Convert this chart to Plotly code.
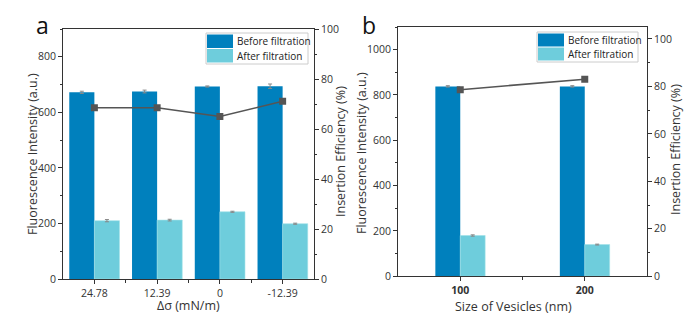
import plotly.graph_objects as go

# ---------------- data ----------------
cats_a = ["24.78", "12.39", "0", "-12.39"]
before_a = [672, 675, 693, 694]
before_a_err = [4, 5, 2, 8]
after_a = [210, 212, 242, 199]
after_a_err = [4, 3, 2, 2]
eff_a = [68.5, 68.5, 65.0, 71.1]

cats_b = ["100", "200"]
before_b = [838, 838]
before_b_err = [3, 3]
after_b = [180, 140]
after_b_err = [3, 2]
eff_b = [78.6, 83.0]

series_names = ["Before filtration", "After filtration"]
title_a_x = "Δσ (mN/m)"
title_b_x = "Size of Vesicles (nm)"
title_y_left = "Fluorescence Intensity (a.u.)"
title_y_right = "Insertion Efficiency (%)"

# ---------------- style ----------------
C_BEFORE = "#0080BD"
C_AFTER = "#6ECDDC"
C_LINE = "#555555"
FONT = "Open Sans"
OFF = 8                       # page body margin of the browser
W, H = 700 - 2 * OFF, 325 - 2 * OFF


def px(x):
    return (x - OFF) / W


def py(y):
    return 1 - (y - OFF) / H


fig = go.Figure()

xa = list(range(len(cats_a)))
xb = list(range(len(cats_b)))

err_style = dict(type="data", thickness=1, width=2, color="#888888")

fig.add_trace(go.Bar(x=xa, y=before_a, name=series_names[0], marker_color=C_BEFORE,
                     marker_line_width=0, error_y=dict(array=before_a_err, **err_style),
                     xaxis="x", yaxis="y", offsetgroup="1", showlegend=False))
fig.add_trace(go.Bar(x=xa, y=after_a, name=series_names[1], marker_color=C_AFTER,
                     marker_line=dict(width=0.6, color="#9FE0E8"),
                     error_y=dict(array=after_a_err, **err_style),
                     xaxis="x", yaxis="y", offsetgroup="2", showlegend=False))
fig.add_trace(go.Scatter(x=xa, y=eff_a, mode="lines+markers", xaxis="x", yaxis="y2",
                         line=dict(color=C_LINE, width=1.6),
                         marker=dict(symbol="square", size=7, color=C_LINE), showlegend=False))

fig.add_trace(go.Bar(x=xb, y=before_b, name=series_names[0], marker_color=C_BEFORE,
                     marker_line_width=0, error_y=dict(array=before_b_err, **err_style),
                     xaxis="x2", yaxis="y3", width=0.2, offset=-0.2, showlegend=False))
fig.add_trace(go.Bar(x=xb, y=after_b, name=series_names[1], marker_color=C_AFTER,
                     marker_line=dict(width=0.6, color="#9FE0E8"),
                     error_y=dict(array=after_b_err, **err_style),
                     xaxis="x2", yaxis="y3", width=0.2, offset=0.0, showlegend=False))
fig.add_trace(go.Scatter(x=xb, y=eff_b, mode="lines+markers", xaxis="x2", yaxis="y4",
                         line=dict(color=C_LINE, width=1.6),
                         marker=dict(symbol="square", size=7, color=C_LINE), showlegend=False))

axcol = "#333333"
tickfont = dict(family=FONT, size=10.5, color="#333333")

common_x = dict(showline=True, linecolor=axcol, linewidth=1, mirror=True, ticks="outside",
                ticklen=4, tickcolor=axcol, showgrid=False, zeroline=False, tickfont=tickfont,
                automargin=False)
common_y = dict(showline=True, linecolor=axcol, linewidth=1, ticks="outside", ticklen=4,
                tickcolor=axcol, showgrid=False, zeroline=False, tickfont=tickfont,
                automargin=False)

dom_xa = [px(63), px(314)]
dom_xb = [px(398), px(647)]
dom_ya = [py(279), py(29)]
dom_yb = [py(276.3), py(27)]

fig.update_layout(
    width=W, height=H, margin=dict(l=0, r=0, t=0, b=0, autoexpand=False),
    paper_bgcolor="white", plot_bgcolor="white",
    barmode="group", bargap=0.2, bargroupgap=0,
    font=dict(family=FONT, color="#333333"),
    xaxis=dict(domain=dom_xa, range=[-0.5, len(cats_a) - 0.5], tickvals=xa, ticktext=cats_a,
               minor=dict(tickvals=[i + 0.5 for i in xa[:-1]], ticks="outside", ticklen=3,
                          tickcolor=axcol),
               anchor="y", **common_x),
    yaxis=dict(domain=dom_ya, range=[0, 900], dtick=200, anchor="x",
               minor=dict(dtick=100, ticks="outside", ticklen=2, tickcolor=axcol),
               **common_y),
    yaxis2=dict(domain=dom_ya, range=[0, 100], dtick=20, overlaying="y", side="right", anchor="x",
                minor=dict(dtick=10, ticks="outside", ticklen=2, tickcolor=axcol),
                **common_y),
    xaxis2=dict(domain=dom_xb, range=[-0.5, len(cats_b) - 0.5], tickvals=xb,
                ticktext=["<b>%s</b>" % c for c in cats_b],
                minor=dict(tickvals=[i + 0.5 for i in xb[:-1]], ticks="outside", ticklen=3,
                           tickcolor=axcol),
                anchor="y3", **common_x),
    yaxis3=dict(domain=dom_yb, range=[0, 1100], dtick=200, anchor="x2",
                minor=dict(dtick=100, ticks="outside", ticklen=2, tickcolor=axcol),
                **common_y),
    yaxis4=dict(domain=dom_yb, range=[0, 105], dtick=20, overlaying="y3", side="right",
                anchor="x2",
                minor=dict(dtick=10, ticks="outside", ticklen=2, tickcolor=axcol),
                **common_y),
)

shapes = []
annots = []


def legend(x0, y0, x1, y1):
    shapes.append(dict(type="rect", xref="paper", yref="paper", x0=px(x0), x1=px(x1),
                       y0=py(y1), y1=py(y0), line=dict(color="#cccccc", width=1),
                       fillcolor="white", layer="above"))
    hh = (y1 - y0 - 2) / 2
    for i, (nm, col) in enumerate(zip(series_names, [C_BEFORE, C_AFTER])):
        ya0 = y0 + 1 + i * hh
        shapes.append(dict(type="rect", xref="paper", yref="paper", x0=px(x0 + 1),
                           x1=px(x0 + 27), y0=py(ya0 + hh - 0.5), y1=py(ya0 + 0.5),
                           line=dict(width=0), fillcolor=col, layer="above"))
        annots.append(dict(text=nm, xref="paper", yref="paper", x=px(x0 + 29),
                           y=py(ya0 + hh / 2), xanchor="left", yanchor="middle",
                           showarrow=False, font=dict(family=FONT, size=10, color="#222222")))


legend(206, 33, 308, 64)
legend(537, 32, 638, 62)


def label(text, x, y, angle=0, size=12.5, color="#333333", yanchor="middle"):
    annots.append(dict(text=text, xref="paper", yref="paper", x=px(x), y=py(y),
                       showarrow=False, xanchor="center", yanchor=yanchor, textangle=angle,
                       borderpad=0, font=dict(family=FONT, size=size, color=color)))


label("a", 42, OFF, size=23, color="#111111", yanchor="top")
label("b", 369, OFF, size=23, color="#111111", yanchor="top")
label(title_y_left, 33, 154, angle=-90)
label(title_y_right, 340, 152, angle=-90)
label(title_y_left, 361, 153, angle=-90)
label(title_y_right, 675, 150, angle=-90)
label(title_a_x, 188, 305.5)
label(title_b_x, 513, 306)

fig.update_layout(shapes=shapes, annotations=annots)

fig.write_html("out.html")
